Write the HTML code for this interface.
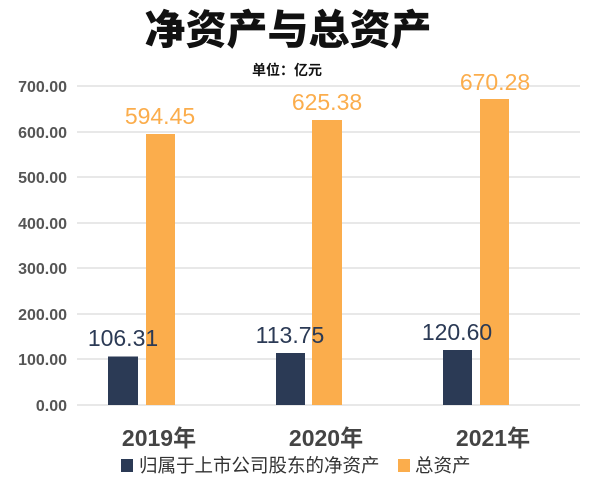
<!DOCTYPE html>
<html><head><meta charset="utf-8"><style>
body{margin:0;background:#fff;width:600px;height:498px;overflow:hidden;font-family:"Liberation Sans","Noto Sans CJK SC",sans-serif}
</style></head><body>
<svg width="600" height="498" xmlns="http://www.w3.org/2000/svg" font-family="Liberation Sans, Noto Sans CJK SC, sans-serif">
<text x="288" y="44" text-anchor="middle" font-size="41" font-weight="900" fill="#111">净资产与总资产</text>
<text x="287" y="75" text-anchor="middle" font-size="14" font-weight="bold" fill="#111">单位：亿元</text>
<g stroke="#d9d9d9" stroke-width="1.3">
<line x1="77" x2="580" y1="86" y2="86"/><line x1="77" x2="580" y1="132" y2="132"/>
<line x1="77" x2="580" y1="177" y2="177"/><line x1="77" x2="580" y1="223" y2="223"/>
<line x1="77" x2="580" y1="268" y2="268"/><line x1="77" x2="580" y1="314" y2="314"/>
<line x1="77" x2="580" y1="359" y2="359"/><line x1="77" x2="580" y1="405" y2="405"/>
</g>
<g font-size="16" font-weight="bold" fill="#555" text-anchor="end">
<text x="67" y="92">700.00</text><text x="67" y="138">600.00</text><text x="67" y="183">500.00</text>
<text x="67" y="229">400.00</text><text x="67" y="274">300.00</text><text x="67" y="320">200.00</text>
<text x="67" y="365">100.00</text><text x="67" y="411">0.00</text>
</g>
<g fill="#2b3a55">
<rect x="108" y="356.5" width="30" height="48.5"/>
<rect x="276" y="353" width="29" height="52"/>
<rect x="443" y="350" width="29" height="55"/>
</g>
<g fill="#fbad4c">
<rect x="146" y="134" width="29" height="271"/>
<rect x="312" y="120" width="30" height="285"/>
<rect x="480" y="99" width="29" height="306"/>
</g>
<g font-size="23" fill="#fbad4c" text-anchor="middle">
<text x="160" y="124">594.45</text><text x="327" y="110">625.38</text><text x="495" y="90">670.28</text>
</g>
<g font-size="23" fill="#2b3a55" text-anchor="middle">
<text x="123" y="346">106.31</text><text x="290" y="343">113.75</text><text x="457" y="340">120.60</text>
</g>
<g font-size="23" font-weight="bold" fill="#444" text-anchor="middle">
<text x="159" y="446">2019年</text><text x="326" y="446">2020年</text><text x="493" y="446">2021年</text>
</g>
<rect x="121" y="459" width="12" height="13" fill="#2b3a55"/>
<text x="139" y="472" font-size="18.5" fill="#333">归属于上市公司股东的净资产</text>
<rect x="398" y="459" width="12" height="13" fill="#fbad4c"/>
<text x="415" y="472" font-size="18.5" fill="#333">总资产</text>
</svg>
</body></html>
